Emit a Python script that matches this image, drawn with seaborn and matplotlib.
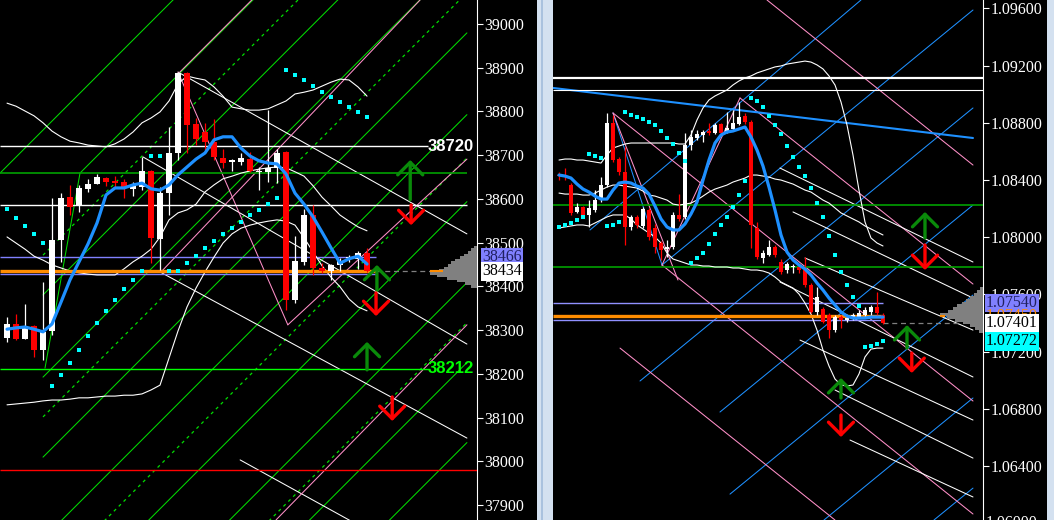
import numpy as np
import matplotlib
matplotlib.use("Agg")
import matplotlib.pyplot as plt
from matplotlib.patches import Rectangle
import seaborn as sns

# ---------------- left chart: index, price in points ----------------
l_open = [38282, 38314, 38280, 38309, 38254, 38298, 38506, 38604, 38586, 38623,
          38634, 38648, 38641, 38639, 38623, 38627, 38664, 38508, 38614, 38705,
          38888, 38771, 38753, 38730, 38694, 38684, 38684, 38691, 38662, 38662,
          38671, 38707, 38369, 38456, 38563, 38442, 38435, 38449, 38465, 38463,
          38476]
l_high = [38330, 38337, 38360, 38312, 38410, 38602, 38614, 38632, 38632, 38646,
          38657, 38650, 38652, 38646, 38639, 38696, 38666, 38627, 38764, 38890,
          38890, 38785, 38774, 38783, 38714, 38691, 38705, 38707, 38673, 38803,
          38714, 38710, 38515, 38577, 38586, 38453, 38451, 38465, 38472, 38481,
          38488]
l_low = [38273, 38277, 38279, 38238, 38232, 38289, 38456, 38563, 38570, 38616,
         38634, 38630, 38625, 38602, 38607, 38620, 38453, 38437, 38563, 38689,
         38705, 38723, 38712, 38689, 38671, 38664, 38678, 38662, 38620, 38639,
         38636, 38346, 38362, 38449, 38426, 38431, 38415, 38435, 38456, 38440,
         38432]
l_close = [38314, 38280, 38309, 38254, 38296, 38506, 38602, 38581, 38625, 38634,
           38650, 38639, 38636, 38627, 38630, 38664, 38511, 38614, 38705, 38888,
           38769, 38737, 38730, 38696, 38682, 38689, 38694, 38664, 38664, 38671,
           38705, 38369, 38458, 38563, 38442, 38435, 38449, 38458, 38467, 38476,
           38434]
l_ma = [38302, 38305, 38307, 38302, 38296, 38314, 38364, 38415, 38456, 38497,
        38545, 38609, 38625, 38625, 38632, 38636, 38623, 38620, 38632, 38655,
        38673, 38691, 38705, 38735, 38742, 38742, 38716, 38698, 38687, 38682,
        38680, 38657, 38613, 38588, 38559, 38524, 38488, 38453, 38463, 38469,
        38451]
l_bb_up = [38819, 38812, 38801, 38790, 38774, 38755, 38742, 38732, 38728, 38723,
           38721, 38719, 38726, 38737, 38753, 38774, 38785, 38799, 38824, 38863,
           38881, 38876, 38872, 38856, 38835, 38810, 38806, 38803, 38803, 38806,
           38815, 38824, 38840, 38844, 38849, 38858, 38867, 38874, 38872, 38856,
           38835]
l_bb_mid = [38513, 38499, 38485, 38469, 38460, 38449, 38442, 38435, 38431, 38428,
            38426, 38426, 38426, 38440, 38456, 38469, 38485, 38513, 38552, 38568,
            38575, 38588, 38616, 38632, 38646, 38652, 38659, 38664, 38668, 38671,
            38673, 38671, 38662, 38652, 38630, 38604, 38584, 38563, 38549, 38536,
            38527]
l_bb_low = [38129, 38131, 38133, 38135, 38138, 38140, 38140, 38142, 38145, 38145,
            38147, 38149, 38149, 38151, 38151, 38154, 38163, 38174, 38236, 38298,
            38353, 38396, 38433, 38467, 38499, 38520, 38533, 38540, 38545, 38549,
            38552, 38549, 38540, 38511, 38479, 38447, 38421, 38399, 38371, 38353,
            38344]
l_sar = [38577, 38556, 38538, 38520, 38499, 38172, 38197, 38225, 38254, 38286,
         38316, 38344, 38369, 38394, 38415, 38435, 38698, 38698, 38435, 38435,
         38453, 38469, 38488, 38504, 38520, 38533, 38547, 38563, 38575, 38588,
         38602, 38895, 38883, 38872, 38858, 38844, 38833, 38822, 38810, 38799,
         38787]
l_ticks = [37900, 38000, 38100, 38200, 38300, 38400, 38500, 38600, 38700, 38800, 38900, 39000]

# trend lines: (bar0, price0, bar1, price1)
l_white_lines = [(19.0, 38890, 51.1, 38520), (15.1, 38696, 51.1, 38268),
                 (17.0, 38433, 51.1, 38053), (25.9, 38003, 51.1, 37717)]
l_pink_lines = [(19.0, 38890, 31.2, 38312), (31.2, 38312, 51.1, 38691),
                (17.3, 38437, 45.9, 39055), (19.2, 38890, 27.2, 39055),
                (29.9, 37866, 51.1, 38312)]
l_handle = (4.22, 38213, 8.11, 38659)
l_green_slope = 20.6            # points per bar
l_green_solid = [38675, 38492, 38298, 38110, 37927, 37740, 37541, 37356, 37173, 36990, 36807]
l_green_start = [-0.8, 8.1, 4.0, 4.0, 4.0, 4.0, 4.0, 4.0, 4.0, 4.0, 4.0]
l_green_dash = [38389, 38019, 37641, 37264]
l_arrows = [(44.8, 38598, 38689), (44.9, 38586, 38540), (41.1, 38392, 38449),
            (41.0, 38385, 38332), (40.0, 38209, 38273), (42.8, 38147, 38092)]
l_vp_price = [38490, 38484, 38478, 38472, 38466, 38460, 38454, 38448,
              38442, 38436, 38430, 38424, 38418, 38412, 38406, 38400]
l_vp_vol = [3, 6, 9, 13, 17, 22, 26, 29, 33, 38, 47, 40, 30, 20, 12, 6]

# ---------------- right chart: EURUSD ----------------
r_open = [1.08428, 1.08435, 1.08365, 1.08177, 1.08211, 1.08156, 1.08191, 1.08260, 1.08365, 1.08799,
          1.08547, 1.08456, 1.08072, 1.08142, 1.08079, 1.08191, 1.08065, 1.07960, 1.07918, 1.07932,
          1.08156, 1.08142, 1.08645, 1.08694, 1.08715, 1.08743, 1.08729, 1.08792, 1.08736, 1.08757,
          1.08792, 1.08848, 1.08806, 1.08065, 1.07855, 1.07876, 1.07932, 1.07827, 1.07771, 1.07792,
          1.07792, 1.07771, 1.07666, 1.07477, 1.07498, 1.07456, 1.07351, 1.07442, 1.07421, 1.07435,
          1.07442, 1.07456, 1.07477, 1.07512, 1.07456]
r_high = [1.08456, 1.08484, 1.08379, 1.08239, 1.08218, 1.08260, 1.08330, 1.08421, 1.08869, 1.08855,
          1.08561, 1.08631, 1.08156, 1.08156, 1.08211, 1.08205, 1.08093, 1.07974, 1.07981, 1.08177,
          1.08302, 1.08729, 1.08750, 1.08750, 1.08750, 1.08799, 1.08799, 1.08799, 1.08876, 1.08890,
          1.08946, 1.08869, 1.08820, 1.08107, 1.07911, 1.07981, 1.07946, 1.07848, 1.07827, 1.07813,
          1.07806, 1.07862, 1.07680, 1.07652, 1.07512, 1.07470, 1.07456, 1.07456, 1.07449, 1.07470,
          1.07491, 1.07512, 1.07526, 1.07617, 1.07470]
r_low = [1.08400, 1.08400, 1.08156, 1.08170, 1.08135, 1.08072, 1.08177, 1.08246, 1.08351, 1.08526,
         1.08435, 1.07946, 1.08051, 1.08065, 1.08065, 1.07981, 1.07890, 1.07841, 1.07862, 1.07918,
         1.08114, 1.08128, 1.08610, 1.08680, 1.08666, 1.08715, 1.08722, 1.08722, 1.08729, 1.08750,
         1.08785, 1.08792, 1.07925, 1.07848, 1.07820, 1.07869, 1.07862, 1.07743, 1.07750, 1.07750,
         1.07750, 1.07652, 1.07470, 1.07456, 1.07400, 1.07295, 1.07337, 1.07365, 1.07407, 1.07421,
         1.07435, 1.07442, 1.07456, 1.07456, 1.07393]
r_close = [1.08426, 1.08421, 1.08170, 1.08211, 1.08149, 1.08205, 1.08260, 1.08365, 1.08799, 1.08540,
           1.08456, 1.08072, 1.08142, 1.08086, 1.08198, 1.08002, 1.07932, 1.07911, 1.07932, 1.08156,
           1.08128, 1.08645, 1.08701, 1.08722, 1.08736, 1.08729, 1.08785, 1.08729, 1.08764, 1.08799,
           1.08841, 1.08806, 1.08086, 1.07862, 1.07890, 1.07932, 1.07876, 1.07757, 1.07813, 1.07799,
           1.07771, 1.07666, 1.07477, 1.07582, 1.07407, 1.07351, 1.07442, 1.07421, 1.07435, 1.07456,
           1.07470, 1.07491, 1.07512, 1.07470, 1.07401]
r_ma = [1.08435, 1.08428, 1.08414, 1.08372, 1.08337, 1.08316, 1.08288, 1.08267, 1.08267, 1.08330,
        1.08379, 1.08386, 1.08379, 1.08358, 1.08344, 1.08302, 1.08218, 1.08128, 1.08072, 1.08051,
        1.08051, 1.08093, 1.08163, 1.08246, 1.08400, 1.08540, 1.08659, 1.08715, 1.08736, 1.08743,
        1.08757, 1.08771, 1.08701, 1.08610, 1.08498, 1.08351, 1.08191, 1.08016, 1.07897, 1.07841,
        1.07806, 1.07778, 1.07736, 1.07680, 1.07631, 1.07575, 1.07526, 1.07477, 1.07449, 1.07435,
        1.07435, 1.07435, 1.07442, 1.07442, 1.07442]
r_bb_up = [1.08540, 1.08547, 1.08547, 1.08540, 1.08540, 1.08533, 1.08526, 1.08519, 1.08575, 1.08624,
           1.08638, 1.08652, 1.08659, 1.08659, 1.08659, 1.08659, 1.08659, 1.08659, 1.08659, 1.08659,
           1.08652, 1.08652, 1.08715, 1.08820, 1.08904, 1.08960, 1.08988, 1.09009, 1.09030, 1.09065,
           1.09093, 1.09114, 1.09128, 1.09149, 1.09163, 1.09177, 1.09191, 1.09198, 1.09211, 1.09218,
           1.09225, 1.09232, 1.09225, 1.09205, 1.09177, 1.09128, 1.09065, 1.08946, 1.08785, 1.08575,
           1.08330, 1.08107, 1.07995, 1.07960, 1.07939]
r_bb_mid = [1.08309, 1.08302, 1.08302, 1.08302, 1.08295, 1.08295, 1.08309, 1.08330, 1.08351, 1.08365,
            1.08365, 1.08358, 1.08351, 1.08344, 1.08323, 1.08295, 1.08288, 1.08274, 1.08260, 1.08232,
            1.08225, 1.08232, 1.08239, 1.08260, 1.08288, 1.08316, 1.08337, 1.08351, 1.08365, 1.08386,
            1.08400, 1.08414, 1.08435, 1.08435, 1.08428, 1.08421, 1.08407, 1.08400, 1.08386, 1.08372,
            1.08351, 1.08330, 1.08316, 1.08288, 1.08260, 1.08239, 1.08205, 1.08170, 1.08149, 1.08128,
            1.08107, 1.08079, 1.08058, 1.08037, 1.08016]
r_bb_low = [1.08065, 1.08072, 1.08079, 1.08086, 1.08086, 1.08079, 1.08100, 1.08121, 1.08142, 1.08156,
            1.08156, 1.08156, 1.08128, 1.08086, 1.08058, 1.08030, 1.08002, 1.07960, 1.07890, 1.07848,
            1.07834, 1.07820, 1.07806, 1.07806, 1.07799, 1.07799, 1.07792, 1.07792, 1.07792, 1.07785,
            1.07785, 1.07778, 1.07771, 1.07771, 1.07764, 1.07750, 1.07722, 1.07687, 1.07666, 1.07645,
            1.07603, 1.07540, 1.07463, 1.07351, 1.07211, 1.07100, 1.07009, 1.06967, 1.06960, 1.06967,
            1.07044, 1.07163, 1.07218, 1.07225, 1.07225]
r_sar = [1.08072, 1.08086, 1.08100, 1.08121, 1.08142, 1.08582, 1.08568, 1.08554, 1.08079, 1.08086,
         1.08107, 1.08876, 1.08855, 1.08841, 1.08827, 1.08806, 1.08785, 1.08743, 1.08694, 1.08652,
         1.08589, 1.08533, 1.07820, 1.07855, 1.07890, 1.07953, 1.08023, 1.08086, 1.08142, 1.08211,
         1.08295, 1.08393, 1.08974, 1.08953, 1.08911, 1.08848, 1.08785, 1.08722, 1.08638, 1.08561,
         1.08491, 1.08428, 1.08344, 1.08239, 1.08142, 1.08009, 1.07876, 1.07757, 1.07666, 1.07582,
         1.07519, 1.07232, 1.07239, 1.07253, 1.07274]
r_ticks = [1.064, 1.068, 1.072, 1.076, 1.080, 1.084, 1.088, 1.092, 1.096]

r_white_lines = [(36.83, 1.08484, 69, 1.07827), (39.0, 1.08177, 69, 1.07575),
                 (41.0, 1.07855, 69, 1.07351), (36.83, 1.07687, 69, 1.07023),
                 (40.17, 1.07281, 69, 1.06722), (46.0, 1.06932, 69, 1.06456),
                 (48.5, 1.06582, 69, 1.06184)]
r_blue_lines = [(5.17, 1.08051, 50.33, 1.09659), (17.17, 1.07806, 69, 1.09589),
                (13.5, 1.06995, 69, 1.08904), (26.83, 1.06778, 69, 1.08225),
                (28.5, 1.06204, 69, 1.07596), (44.17, 1.06023, 69, 1.06876),
                (62.5, 1.06023, 69, 1.06246), (9.0, 1.08869, 17.17, 1.07806)]
r_pink_lines = [(9.0, 1.08869, 19.83, 1.07701), (17.17, 1.07806, 30.17, 1.08974),
                (34.67, 1.09659, 69, 1.08505), (30.17, 1.08974, 69, 1.07673),
                (9.0, 1.08869, 69, 1.06855), (17.17, 1.07806, 69, 1.06065),
                (10.17, 1.07225, 46.0, 1.06023)]
r_blue_thick = (-1.0, 1.09044, 69, 1.08694)
r_arrows = [(61.0, 1.07995, 1.08177), (61.0, 1.07946, 1.07771), (58.0, 1.07225, 1.07386),
            (58.8, 1.07190, 1.07051), (47.0, 1.06876, 1.07016), (47.0, 1.06757, 1.06603)]
r_vp_price = [1.0764, 1.0762, 1.0760, 1.0758, 1.0756, 1.0754, 1.0752, 1.0750,
              1.0748, 1.0746, 1.0744, 1.0742, 1.0740, 1.0738, 1.0736, 1.0734]
r_vp_vol = [3, 6, 9, 13, 17, 21, 26, 30, 35, 43, 36, 28, 20, 13, 8, 4]

# ---------------- drawing ----------------
sns.set_theme(style="dark", rc={"axes.facecolor": "black", "figure.facecolor": "black",
                                "axes.grid": False})
SERIF = ["Liberation Serif", "DejaVu Serif"]
GREEN = "#00dd00"
PINK = "#ff8fc8"
BLUE = "#1e90ff"
PURPLE = "#8080ff"
ORANGE = "#ff8c00"

fig = plt.figure(figsize=(10.54, 5.2), dpi=100)
axL = fig.add_axes([0, 0, 477 / 1054, 1])
axR = fig.add_axes([553 / 1054, 0, 430 / 1054, 1])


def candles(ax, o, h, l, c, width, min_body):
    o, h, l, c = map(np.asarray, (o, h, l, c))
    x = np.arange(len(o))
    col = np.where(c >= o, "#ffffff", "#ff0000")
    ax.vlines(x, l, h, colors=col, lw=0.9, zorder=5)
    ax.bar(x, np.maximum(np.abs(c - o), min_body), bottom=np.minimum(o, c),
           width=width, color=col, lw=0, zorder=5)


def segs(ax, lines, color, lw=0.75, ls="-", z=2):
    for b0, p0, b1, p1 in lines:
        ax.plot([b0, b1], [p0, p1], color=color, lw=lw, ls=ls, zorder=z)


def arrows(ax, items):
    for b, tail, tip in items:
        col = "#0a8a0a" if tip > tail else "#ff0000"
        ax.annotate("", xy=(b, tip), xytext=(b, tail), zorder=8, annotation_clip=False,
                    arrowprops=dict(arrowstyle="->,head_length=0.75,head_width=0.75",
                                    color=col, lw=2.4, shrinkA=0, shrinkB=0))


# ---- left panel ----
xl = np.arange(len(l_open))
for base, start in zip(l_green_solid, l_green_start):
    axL.plot([start, 51.1], [base + l_green_slope * start, base + l_green_slope * 51.1],
             color=GREEN, lw=0.75, zorder=2)
for base in l_green_dash:
    axL.plot([4.0, 51.1], [base + l_green_slope * 4.0, base + l_green_slope * 51.1],
             color=GREEN, lw=0.9, ls=(0, (2.5, 3)), zorder=2)
segs(axL, [l_handle], GREEN)
segs(axL, l_white_lines, "white")
segs(axL, l_pink_lines, PINK)

axL.hlines(38720, -0.8, 46.8, color="white", lw=1.0, zorder=3)
axL.hlines(38586, -0.8, 51.1, color="white", lw=1.0, zorder=3)
axL.hlines(38660, -0.8, 51.1, color="#00a000", lw=1.2, zorder=3)
axL.hlines(38212, -0.8, 47.0, color="#00ff00", lw=1.0, zorder=3)
axL.hlines(37980, -0.8, 52.3, color="#ff0000", lw=1.0, zorder=3)
axL.hlines([38466, 38428], -0.8, 41, color=PURPLE, lw=1.0, zorder=3)
axL.hlines(38434, -0.8, 41, color=ORANGE, lw=2.4, zorder=4)
axL.hlines(38434, 41, 48.1, color="#808080", lw=0.9, ls=(0, (4, 3)), zorder=3)

for band in (l_bb_up, l_bb_mid, l_bb_low):
    sns.lineplot(x=xl, y=band, ax=axL, color="white", lw=0.8, zorder=3)
candles(axL, l_open, l_high, l_low, l_close, 0.6, 2.3)
sns.lineplot(x=xl, y=l_ma, ax=axL, color=BLUE, lw=2.3, zorder=6)
sns.scatterplot(x=xl, y=l_sar, ax=axL, color="#00ffff", marker="s", s=6, linewidth=0, zorder=6)
arrows(axL, l_arrows)

vol = np.asarray(l_vp_vol, float)
axL.barh(l_vp_price, -vol / vol.max() * 5.2, left=52.22, height=6, color="#808080", lw=0, zorder=4)
axL.hlines(38434, 47.0, 48.4, color=ORANGE, lw=1.5, zorder=5)

axL.text(51.9, 38720, "38720", ha="right", va="center", color="white", fontsize=12,
         fontweight="bold", family="Liberation Sans", zorder=9)
axL.text(51.9, 38212, "38212", ha="right", va="center", color="#00ff00", fontsize=12,
         fontweight="bold", family="Liberation Sans", zorder=9)

axL.set_xlim(-0.78, 52.22)
axL.set_ylim(37865.6, 39054.9)
axL.set_yticks(l_ticks)
axL.set_yticklabels([str(t) for t in l_ticks])

# ---- right panel ----
xr = np.arange(len(r_open))
segs(axR, r_blue_lines, BLUE)
segs(axR, r_pink_lines, PINK)
segs(axR, r_white_lines, "white")
segs(axR, [r_blue_thick], BLUE, lw=1.5, z=3)

axR.hlines(1.09114, -1, 71, color="white", lw=1.6, zorder=3)
axR.hlines(1.09030, -1, 71, color="white", lw=0.8, zorder=3)
axR.hlines([1.08225, 1.07792], -1, 71, color="#00a000", lw=1.2, zorder=3)
axR.hlines([1.07540, 1.07420], -1, 54, color="#9090ff", lw=1.0, zorder=3)
axR.hlines(1.07450, -1, 54, color=ORANGE, lw=2.4, zorder=4)
axR.hlines(1.07400, 54, 66.8, color="#808080", lw=0.9, ls=(0, (4, 3)), zorder=3)

for band in (r_bb_up, r_bb_mid, r_bb_low):
    sns.lineplot(x=xr, y=band, ax=axR, color="white", lw=0.8, zorder=3)
candles(axR, r_open, r_high, r_low, r_close, 0.7, 0.00008)
sns.lineplot(x=xr, y=r_ma, ax=axR, color=BLUE, lw=2.3, zorder=6)
sns.scatterplot(x=xr, y=r_sar, ax=axR, color="#00ffff", marker="s", s=6, linewidth=0, zorder=6)
arrows(axR, r_arrows)

vol = np.asarray(r_vp_vol, float)
axR.barh(r_vp_price, -vol / vol.max() * 7.2, left=70.67, height=0.0002, color="#808080", lw=0, zorder=4)
axR.hlines(1.07450, 63.5, 64.3, color=ORANGE, lw=1.5, zorder=5)

axR.set_xlim(-1.0, 70.67)
axR.set_ylim(1.06023, 1.09659)
axR.set_yticks(r_ticks)
axR.set_yticklabels([f"{t:.5f}" for t in r_ticks])

# ---- axes styling ----
for ax in (axL, axR):
    ax.set_facecolor("black")
    ax.set_xticks([])
    ax.set_xlabel("")
    ax.set_ylabel("")
    ax.yaxis.tick_right()
    ax.tick_params(axis="y", colors="white", labelcolor="white", length=4, width=0.8,
                   pad=1.5, labelsize=11.5, direction="out")
    for lab in ax.get_yticklabels():
        lab.set_family(SERIF)
    for side in ("top", "left", "bottom"):
        ax.spines[side].set_visible(False)
    ax.spines["right"].set_color("white")
    ax.spines["right"].set_linewidth(0.8)


def price_tag(ax, dx, y, s, fg, bg):
    ax.text(1 + dx, y, s, transform=ax.get_yaxis_transform(), ha="left", va="center",
            fontsize=11.5, family=SERIF, color=fg, zorder=10,
            bbox=None if bg is None else dict(boxstyle="square,pad=0.08", fc=bg, ec="none"))


price_tag(axL, 5 / 477, 38466, "38466", "#202060", PURPLE)
price_tag(axL, 5 / 477, 38434, "38434", "black", "white")
price_tag(axR, 3 / 430, 1.06000, "1.06000", "white", None)
price_tag(axR, 3 / 430, 1.07540, "1.07540", "#202060", PURPLE)
price_tag(axR, 3 / 430, 1.07450, "1.07450", ORANGE, None)
price_tag(axR, 3 / 430, 1.07401, "1.07401", "black", "white")
price_tag(axR, 3 / 430, 1.07272, "1.07272", "black", "#00ffff")

# window separators
fig.add_artist(Rectangle((537 / 1054, 0), 16 / 1054, 1, transform=fig.transFigure,
                         fc="#d4e1f0", ec="none", zorder=20))
fig.add_artist(Rectangle((541 / 1054, 0), 1.5 / 1054, 1, transform=fig.transFigure,
                         fc="#aac2de", ec="none", zorder=21))
fig.add_artist(Rectangle((1047 / 1054, 0), 7 / 1054, 1, transform=fig.transFigure,
                         fc="#d4e1f0", ec="none", zorder=20))

fig.savefig("out.png", dpi=100, facecolor="black")
